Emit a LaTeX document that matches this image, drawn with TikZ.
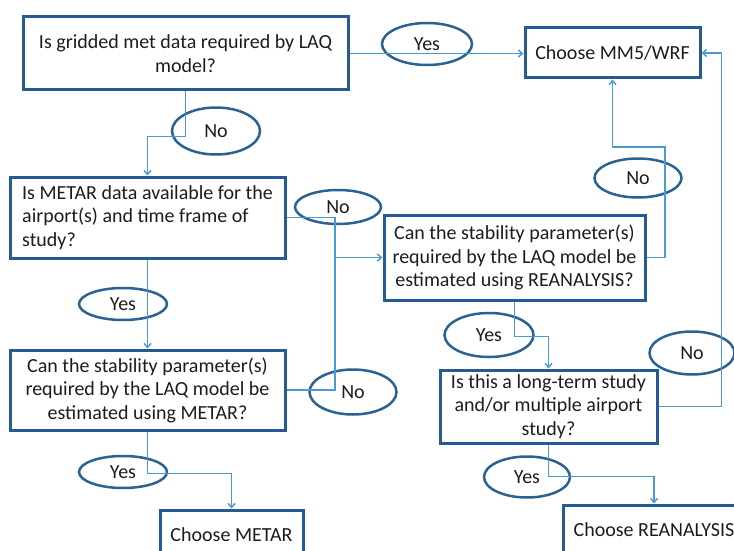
\documentclass[tikz,border=0pt]{standalone}
\usepackage{fontspec}
\setmainfont{Carlito}
\usetikzlibrary{arrows.meta,positioning,shapes.geometric}
\definecolor{boxblue}{HTML}{255A92}
\definecolor{ringblue}{HTML}{2A6294}
\definecolor{linkblue}{HTML}{4A9AD6}
\definecolor{ink}{HTML}{1C1C1C}
\begin{document}
\begin{tikzpicture}[
  x=1pt,y=-1pt,
  >={Straight Barb[length=4pt,width=7pt]},
  query/.style={draw=boxblue,line width=3pt,align=center,inner xsep=8pt,
                inner ysep=3pt,text=ink,font=\fontsize{20}{23.5}\selectfont},
  answer/.style={draw=ringblue,line width=2.5pt,ellipse,inner sep=0pt,
                 text=ink,font=\fontsize{20}{24}\selectfont},
  flow/.style={->,line width=1.5pt,linkblue},
  link/.style={line width=1.5pt,linkblue}
]
\clip (0,0) rectangle (734,551);
\node[query,minimum width=325pt,minimum height=73pt] (gridq) at (185.5,53.5) {Is gridded met data required by LAQ\\model?};
\node[query,minimum width=175pt,minimum height=50pt] (mm5) at (612.5,53) {Choose MM5/WRF};
\node[query,align=left,minimum width=275pt,minimum height=81pt] (availq) at (147.5,217.5) {Is METAR data available for the\\airport(s) and time frame of\\study?};
\node[query,minimum width=275pt,minimum height=80pt] (stabq) at (147.5,390) {Can the stability parameter(s)\\required by the LAQ model be\\estimated using METAR?};
\node[query,minimum width=261pt,minimum height=85pt] (reanq) at (514.5,257.5) {Can the stability parameter(s)\\required by the LAQ model be\\estimated using REANALYSIS?};
\node[query,minimum width=217pt,minimum height=73pt] (longq) at (548.5,406.5) {Is this a long-term study\\and/or multiple airport\\study?};
\node[query,minimum width=143pt,minimum height=50pt] (metar) at (231.5,535) {Choose METAR};
\node[query,minimum width=182pt,minimum height=50pt] (rean) at (654,530) {Choose REANALYSIS};

\node[answer,minimum width=90pt,minimum height=42pt] (yes1) at (427,44) {Yes};
\node[answer,minimum width=88pt,minimum height=47pt] (no1) at (216,131) {No};
\node[answer,minimum width=86pt,minimum height=34pt] (no2) at (338,207) {No};
\node[answer,minimum width=88pt,minimum height=32pt] (yes2) at (123,304) {Yes};
\node[answer,minimum width=87pt,minimum height=45pt] (no3) at (353,392) {No};
\node[answer,minimum width=88pt,minimum height=32pt] (yes3) at (123,472) {Yes};
\node[answer,minimum width=87pt,minimum height=39pt] (no4) at (638,178) {No};
\node[answer,minimum width=89pt,minimum height=44pt] (yes4) at (489,335) {Yes};
\node[answer,minimum width=85pt,minimum height=43pt] (no5) at (692,353) {No};
\node[answer,minimum width=86pt,minimum height=41pt] (yes5) at (527,477) {Yes};

\coordinate (merge) at (335,257.5);
\coordinate (turn) at (665,147);

\draw[flow] (gridq.east) -- (gridq.east -| mm5.west);
\draw[flow] (gridq.south) -- ++(0,45) -| (availq.north);
\draw[link] (availq.east) -| (merge);
\draw[link] (stabq.east) -| (merge);
\draw[flow] (merge) -- (reanq.west);
\draw[flow] (availq) -- (stabq);
\draw[flow] (stabq.south) -- ++(0,42) -| (metar.north);
\draw[flow] (reanq.east) -| (turn) -| (mm5.south);
\draw[flow] (reanq.south) -- ++(0,35) -| (longq.north);
\draw[flow] (longq.east) -- ++(63,0) |- (mm5.east);
\draw[flow] (longq.south) -- ++(0,32) -| (rean.north);
\end{tikzpicture}
\end{document}
